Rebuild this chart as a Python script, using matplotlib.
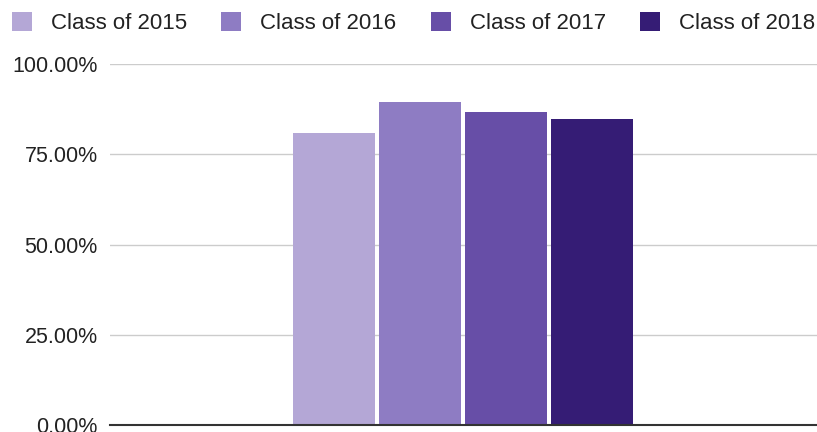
import matplotlib.pyplot as plt
from matplotlib.patches import Patch
from matplotlib.ticker import FuncFormatter

plt.rcParams['font.family'] = ['Liberation Sans', 'DejaVu Sans']

# graduation rate per class
classes = ['Class of 2015', 'Class of 2016', 'Class of 2017', 'Class of 2018']
rates = [80.8, 89.5, 86.8, 84.8]
colors = ['#b4a7d6', '#8e7cc3', '#674ea7', '#351c75']

fig = plt.figure(figsize=(8.17, 4.32), dpi=100)
ax = fig.add_axes([0.135, 0.016, 0.865, 0.836])

step = 0.1217
width = 0.116
center = 0.499
for i, (rate, c) in enumerate(zip(rates, colors)):
    x = center + (i - 1.5) * step
    ax.bar(x, rate, width=width, color=c, zorder=3)

ax.set_xlim(0, 1)
ax.set_ylim(0, 100)
ax.set_yticks([0, 25, 50, 75, 100])
ax.yaxis.set_major_formatter(FuncFormatter(lambda v, p: f'{v:.2f}%'))
ax.set_xticks([])
ax.tick_params(axis='y', length=0, pad=9, labelsize=15.5, labelcolor='#222222')
ax.grid(axis='y', color='#cccccc', linewidth=1, zorder=0)
for s in ['top', 'right', 'left']:
    ax.spines[s].set_visible(False)
ax.spines['bottom'].set_color('#333333')
ax.spines['bottom'].set_linewidth(1.5)
ax.spines['bottom'].set_zorder(4)

handles = [Patch(facecolor=c, edgecolor='none') for c in colors]
fig.legend(handles, classes, loc='center', bbox_to_anchor=(0.506, 0.946),
           ncol=4, frameon=False, fontsize=16, handlelength=0.9,
           handleheight=0.9, handletextpad=0.85, columnspacing=1.55,
           labelcolor='#222222')

fig.savefig('out.png', dpi=100)
